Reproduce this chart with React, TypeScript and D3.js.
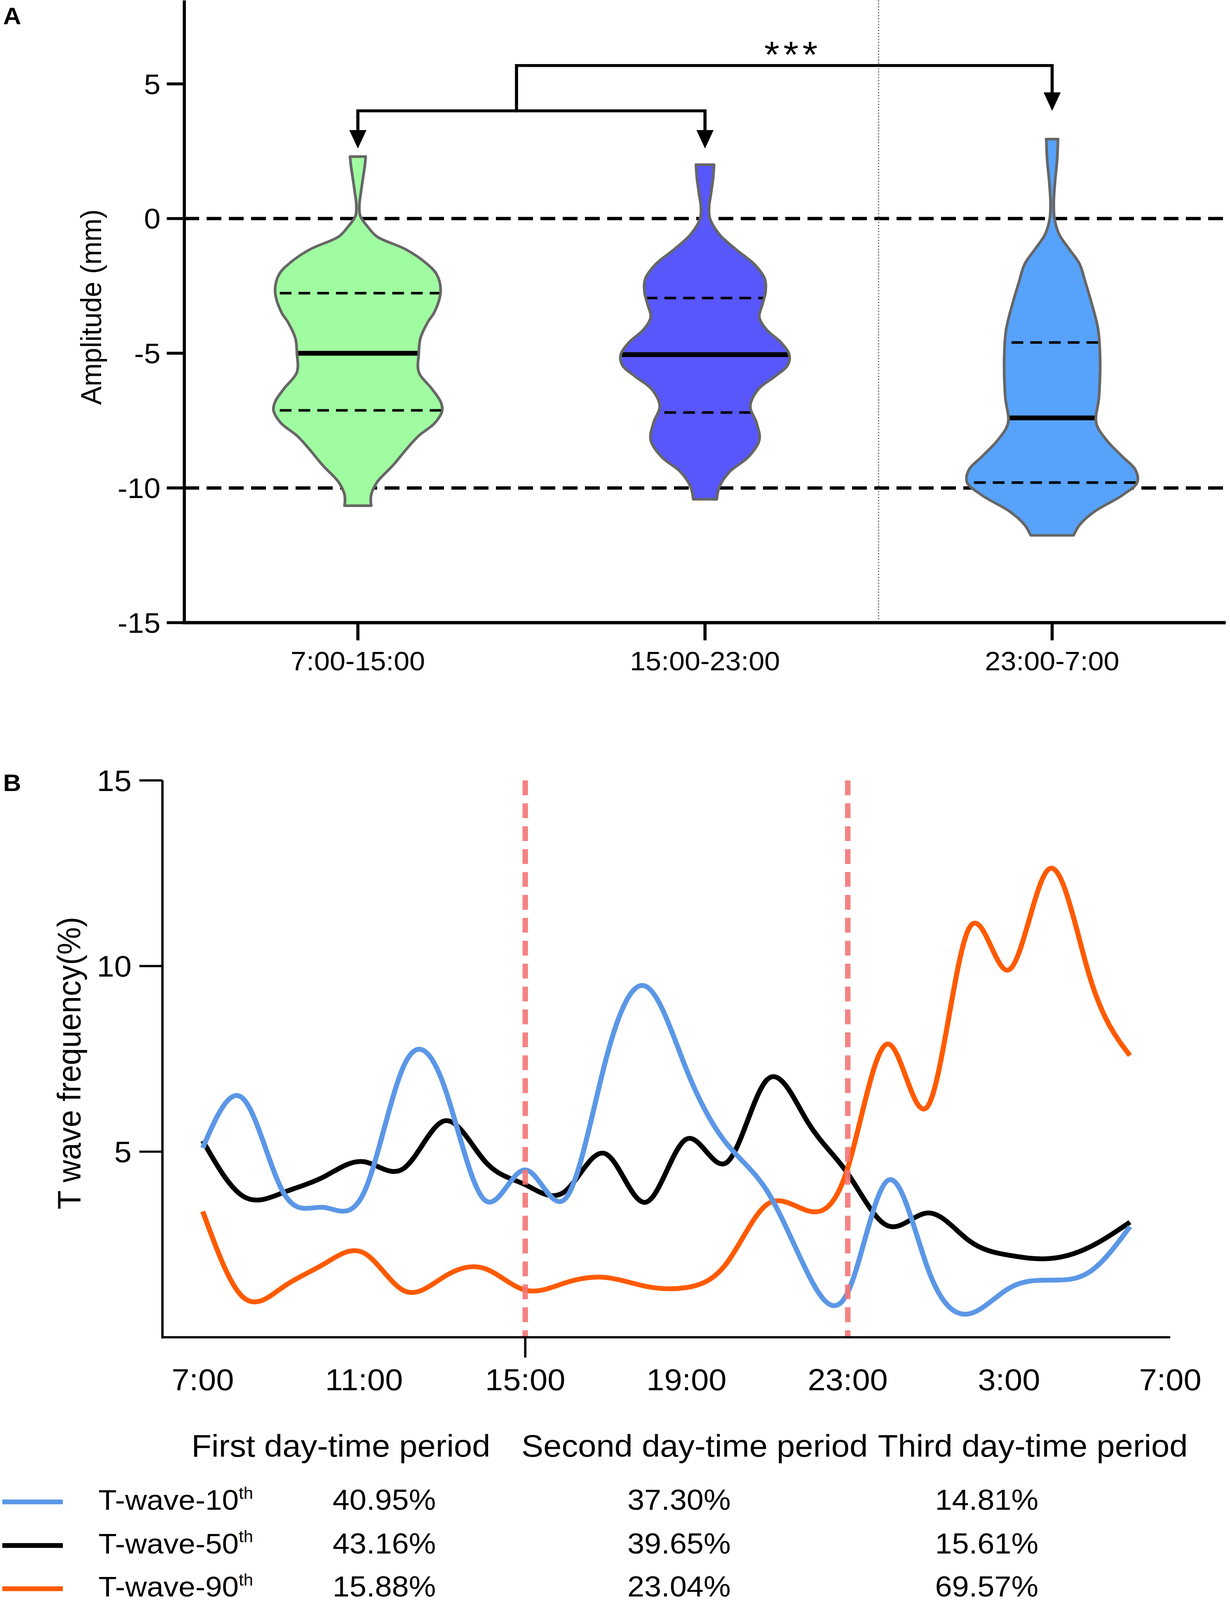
import * as d3 from "d3";

// Two stacked panels: (A) violins of T-wave amplitude per shift,
// (B) hourly T-wave frequency lines with a small summary table below.
const W = 3150;
const H = 4330;
const FONT = "Arial, 'Liberation Sans', Helvetica, sans-serif";

// ---- panel A data ----
const periods = ["7:00-15:00", "15:00-23:00", "23:00-7:00"];
const violinFills = ["#a0fca0", "#5757fb", "#57a2fb"];
const ampTicks = [-15, -10, -5, 0, 5];
const refLines = [0, -10];

// outline: [amplitude mm, relative half-width]
const violinDay: [number, number][] = [
  [2.3, 0.092], [2.0, 0.083], [1.5, 0.06], [1.0, 0.037], [0.5, 0.018],
  [0.1, 0.028], [-0.35, 0.128], [-0.67, 0.225], [-1.14, 0.56], [-1.61, 0.784],
  [-2.08, 0.927], [-2.72, 0.972], [-3.5, 0.895], [-3.82, 0.826], [-4.45, 0.734],
  [-5.0, 0.716], [-5.7, 0.716], [-6.33, 0.872], [-6.8, 0.972], [-7.12, 0.991],
  [-7.59, 0.904], [-8.06, 0.716], [-8.53, 0.578], [-9.16, 0.413], [-9.79, 0.225],
  [-10.26, 0.156], [-10.66, 0.156],
];
const violinEvening: [number, number][] = [
  [2.0, 0.106], [1.53, 0.096], [0.9, 0.069], [0.43, 0.048], [0.0, 0.058],
  [-0.59, 0.17], [-1.14, 0.362], [-1.69, 0.578], [-2.24, 0.702], [-2.72, 0.711],
  [-3.19, 0.674], [-3.66, 0.638], [-4.13, 0.725], [-4.6, 0.894], [-5.07, 0.991],
  [-5.46, 0.968], [-5.86, 0.821], [-6.33, 0.628], [-6.96, 0.532], [-7.59, 0.606],
  [-8.22, 0.638], [-8.85, 0.509], [-9.4, 0.289], [-9.95, 0.17], [-10.42, 0.138],
];
const violinNight: [number, number][] = [
  [2.95, 0.069], [2.16, 0.058], [1.37, 0.034], [0.59, 0.019], [0.0, 0.028],
  [-0.59, 0.083], [-1.14, 0.202], [-1.69, 0.323], [-2.4, 0.394], [-3.19, 0.468],
  [-4.13, 0.541], [-5.38, 0.564], [-6.64, 0.55], [-7.59, 0.518], [-8.22, 0.638],
  [-8.85, 0.83], [-9.32, 0.977], [-9.79, 1.0], [-10.26, 0.83], [-10.89, 0.491],
  [-11.37, 0.323], [-11.76, 0.252],
];
const violins = [violinDay, violinEvening, violinNight];
const upperQuartiles = [-2.77, -2.95, -4.6];
const medians = [-5.0, -5.05, -7.4];
const lowerQuartiles = [-7.12, -7.2, -9.8];

// ---- panel B data ----
const clock = [
  "7:00", "8:00", "9:00", "10:00", "11:00", "12:00", "13:00", "14:00",
  "15:00", "16:00", "17:00", "18:00", "19:00", "20:00", "21:00", "22:00",
  "23:00", "0:00", "1:00", "2:00", "3:00", "4:00", "5:00", "6:00",
];
const twave10 = [5.1, 6.43, 3.9, 3.5, 3.9, 7.34, 6.73, 3.69, 4.51, 3.74, 7.48, 9.45,
  7.21, 5.21, 3.94, 1.74, 1.21, 4.23, 1.81, 0.63, 1.32, 1.54, 1.76, 2.98];
const twave50 = [5.29, 3.8, 3.9, 4.32, 4.73, 4.56, 5.83, 4.74, 4.11, 3.94, 4.94, 3.64,
  5.34, 4.71, 6.94, 5.81, 4.41, 3.0, 3.35, 2.61, 2.21, 2.12, 2.43, 3.1];
const twave90 = [3.39, 1.08, 1.36, 1.97, 2.27, 1.25, 1.64, 1.85, 1.27, 1.47, 1.61, 1.37,
  1.34, 2.0, 3.58, 3.41, 4.56, 7.9, 6.25, 11.0, 9.9, 12.62, 9.72, 7.59];
const freqTicks = [5, 10, 15];
const hourTicks = [0, 4, 8, 12, 16, 20, 24];
const hourTickLabels = ["7:00", "11:00", "15:00", "19:00", "23:00", "3:00", "7:00"];
const shiftBreaks = [8, 16];

const seriesNames = ["T-wave-10", "T-wave-50", "T-wave-90"];
const seriesColors = ["#5b97e6", "#000000", "#ff5a00"];
const periodHeaders = ["First day-time period", "Second day-time period", "Third day-time period"];
const shares = [
  ["40.95%", "37.30%", "14.81%"],
  ["43.16%", "39.65%", "15.61%"],
  ["15.88%", "23.04%", "69.57%"],
];

export default function App() {
  // panel A scales
  const xA = d3.scaleBand<string>().domain(periods).range([472, 3139]);
  const yA = d3.scaleLinear().domain([-15, 5]).range([1685, 227]);
  const wA = d3.scaleLinear().domain([0, 1]).range([0, 218]);
  const cx = (i: number) => (xA(periods[i]) ?? 0) + xA.bandwidth() / 2;

  const violinPath = (i: number) =>
    d3
      .area<[number, number]>()
      .y((d) => yA(d[0]))
      .x0((d) => cx(i) - wA(d[1]))
      .x1((d) => cx(i) + wA(d[1]))
      .curve(d3.curveCatmullRom.alpha(0.5))(violins[i]) ?? "";

  // comparison brackets
  const innerY = yA(4.0);
  const outerY = yA(5.68);
  const tipY = yA(2.6);
  const stemX = cx(0) + 0.457 * (cx(1) - cx(0));
  const arrow = (x: number, y0: number, y1: number) => (
    <g>
      <line x1={x} x2={x} y1={y0} y2={y1 - 46} stroke="#000" strokeWidth={8} />
      <path d={`M${x - 22},${y1 - 50} L${x + 22},${y1 - 50} L${x},${y1} Z`} fill="#000" />
    </g>
  );

  // panel B scales
  const xB = d3.scaleLinear().domain([-1, 24]).range([416, 2997]);
  const yB = d3.scaleLinear().domain([0, 15]).range([3619, 2112]);
  const line = d3
    .line<number>()
    .x((_, i) => xB(clock.indexOf(clock[i])))
    .y((d) => yB(d))
    .curve(d3.curveNatural);
  const series = [twave10, twave50, twave90];
  const drawOrder = [1, 2, 0];

  const legendX = [873, 1779, 2645];
  const valueX = [984, 1739, 2527];
  const rowBase = [4086, 4204, 4321];

  return (
    <svg
      viewBox={`0 0 ${W} ${H}`}
      preserveAspectRatio="none"
      style={{
        position: "fixed",
        left: 0,
        top: 0,
        width: "100vw",
        height: "100vh",
        display: "block",
        background: "#fff",
      }}
      fontFamily={FONT}
    >
      <rect width={W} height={H} fill="#fff" />

      {/* ---------- Panel A ---------- */}
      <text x={8} y={66} fontSize={64} fontWeight={900}>A</text>

      {refLines.map((v) => (
        <line key={v} x1={472} x2={3139} y1={yA(v)} y2={yA(v)} stroke="#000"
          strokeWidth={9} strokeDasharray="38 19" />
      ))}
      <line x1={472 + 2 * xA.step()} x2={472 + 2 * xA.step()} y1={yA(8.1)} y2={yA(-15)}
        stroke="#555" strokeWidth={3} strokeDasharray="3 5" />

      <defs>
        {violins.map((_, i) => (
          <clipPath key={i} id={`vclip${i}`}>
            <path d={violinPath(i)} />
          </clipPath>
        ))}
      </defs>

      {violins.map((_, i) => (
        <g key={i}>
          <path d={violinPath(i)} fill={violinFills[i]} />
          <g clipPath={`url(#vclip${i})`}>
            {[upperQuartiles[i], lowerQuartiles[i]].map((q) => (
              <line key={q} x1={cx(i) - 240} x2={cx(i) + 240} y1={yA(q)} y2={yA(q)}
                stroke="#000" strokeWidth={7} strokeDasharray="30 18" strokeDashoffset={8} />
            ))}
            <line x1={cx(i) - 240} x2={cx(i) + 240} y1={yA(medians[i])} y2={yA(medians[i])}
              stroke="#000" strokeWidth={13} />
          </g>
          <path d={violinPath(i)} fill="none" stroke="#666" strokeWidth={7} strokeLinejoin="round" />
        </g>
      ))}

      {/* brackets */}
      <path d={`M${cx(0)},${innerY} L${cx(1)},${innerY}`} stroke="#000" strokeWidth={8} fill="none" />
      {arrow(cx(0), innerY - 4, tipY)}
      {arrow(cx(1), innerY - 4, tipY)}
      <path d={`M${stemX},${innerY + 4} L${stemX},${outerY} L${cx(2)},${outerY}`}
        stroke="#000" strokeWidth={8} fill="none" strokeLinejoin="miter" />
      {arrow(cx(2), outerY - 4, innerY)}
      <text x={(stemX + cx(2)) / 2 + 22} y={182} fontSize={100} textAnchor="middle"
        letterSpacing={10}>***</text>

      {/* axes A */}
      <line x1={472} x2={472} y1={yA(8.1)} y2={yA(-15) + 4} stroke="#000" strokeWidth={8} />
      <line x1={468} x2={3139} y1={yA(-15)} y2={yA(-15)} stroke="#000" strokeWidth={9} />
      {ampTicks.map((t) => (
        <g key={t}>
          <line x1={427} x2={472} y1={yA(t)} y2={yA(t)} stroke="#000" strokeWidth={8} />
          <text x={411} y={yA(t)} dy="0.36em" fontSize={76} textAnchor="end">{t}</text>
        </g>
      ))}
      {periods.map((p, i) => (
        <g key={p}>
          <line x1={cx(i)} x2={cx(i)} y1={yA(-15)} y2={yA(-15) + 48} stroke="#000" strokeWidth={8} />
          <text x={cx(i)} y={1814} fontSize={72} textAnchor="middle">{p}</text>
        </g>
      ))}
      <text transform="translate(232,831) rotate(-90)" fontSize={75} textAnchor="middle"
        dy="0.36em">Amplitude (mm)</text>

      {/* ---------- Panel B ---------- */}
      <text x={8} y={2141} fontSize={64} fontWeight={900}>B</text>

      {drawOrder.map((s) => (
        <path key={s} d={line(series[s]) ?? ""} fill="none" stroke={seriesColors[s]}
          strokeWidth={13} strokeLinejoin="round" />
      ))}

      {shiftBreaks.map((h) => (
        <line key={h} x1={xB(h)} x2={xB(h)} y1={yB(15)} y2={yB(0)} stroke="#f47474"
          strokeOpacity={0.9} strokeWidth={14} strokeDasharray="40 22" />
      ))}

      <line x1={416} x2={416} y1={yB(15)} y2={yB(0) + 3} stroke="#000" strokeWidth={6} />
      <line x1={413} x2={2997} y1={yB(0)} y2={yB(0)} stroke="#000" strokeWidth={6} />
      <line x1={xB(8)} x2={xB(8)} y1={yB(0)} y2={yB(0) + 55} stroke="#000" strokeWidth={6} />
      {freqTicks.map((t) => (
        <g key={t}>
          <line x1={357} x2={416} y1={yB(t)} y2={yB(t)} stroke="#000" strokeWidth={6} />
          <text x={337} y={yB(t)} dy="0.36em" fontSize={80} textAnchor="end">{t}</text>
        </g>
      ))}
      {hourTicks.map((h, i) => (
        <text key={i} x={xB(h)} y={3762} fontSize={82} textAnchor="middle">{hourTickLabels[i]}</text>
      ))}
      <text transform="translate(176,2877) rotate(-90)" fontSize={84} textAnchor="middle"
        dy="0.36em">T wave frequency(%)</text>

      {/* summary table */}
      {periodHeaders.map((t, i) => (
        <text key={t} x={legendX[i]} y={3942} fontSize={84} textAnchor="middle">{t}</text>
      ))}
      {seriesNames.map((name, r) => (
        <g key={name}>
          <rect x={6} y={rowBase[r] - 28} width={155} height={13} fill={seriesColors[r]} />
          <text x={252} y={rowBase[r]} fontSize={77}>
            {name}
            <tspan fontSize={44} dy={-30}>th</tspan>
          </text>
          {shares[r].map((v, c) => (
            <text key={c} x={valueX[c]} y={rowBase[r]} fontSize={78} textAnchor="middle">{v}</text>
          ))}
        </g>
      ))}
    </svg>
  );
}
